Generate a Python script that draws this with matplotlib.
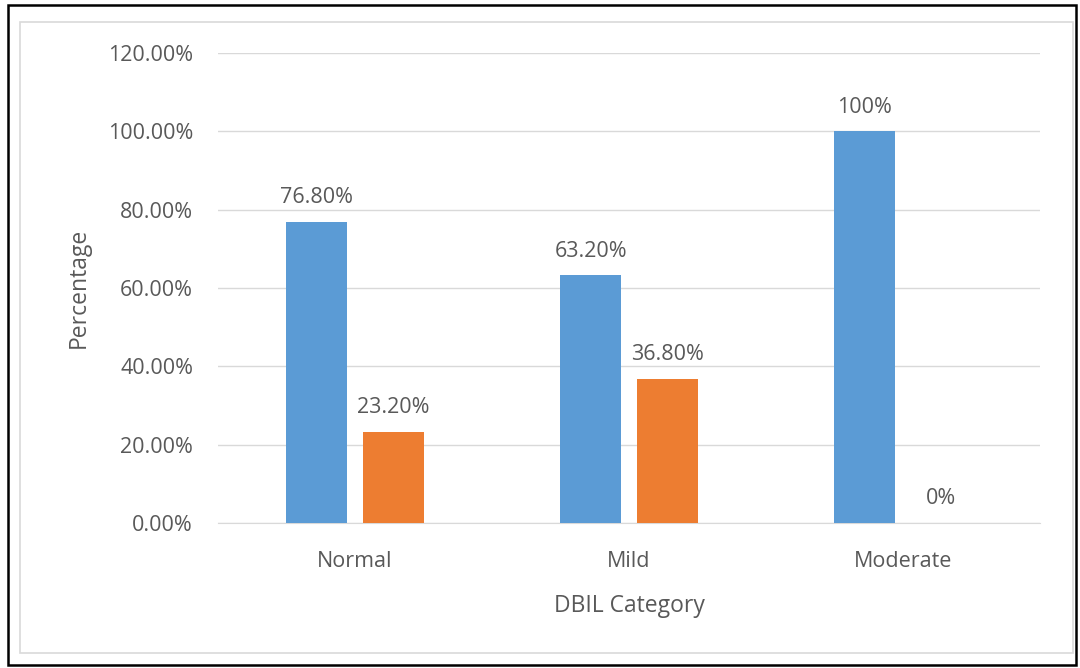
import matplotlib.pyplot as plt
import numpy as np
from matplotlib.patches import Rectangle

categories = ["Normal", "Mild", "Moderate"]
series_a = [76.8, 63.2, 100.0]
series_b = [23.2, 36.8, 0.0]
labels_a = ["76.80%", "63.20%", "100%"]
labels_b = ["23.20%", "36.80%", "0%"]
y_ticks = [0, 20, 40, 60, 80, 100, 120]

text_col = "#595959"
plt.rcParams['font.family'] = ['Open Sans', 'DejaVu Sans']

fig = plt.figure(figsize=(10.8, 6.68), dpi=100)
# outer black frame and inner gray frame
fig.patches.append(Rectangle((8 / 1080, 1 - 665 / 668), 1068 / 1080, 660 / 668,
                             transform=fig.transFigure, fill=False,
                             edgecolor="black", linewidth=1.8))
fig.patches.append(Rectangle((20 / 1080, 1 - 653 / 668), 1053 / 1080, 631 / 668,
                             transform=fig.transFigure, fill=False,
                             edgecolor="#d9d9d9", linewidth=1.2))

ax = fig.add_axes([218 / 1080, 1 - 523 / 668, 822 / 1080, 470 / 668])

x = np.arange(len(categories))
w = 0.222
off = 0.14
bars_a = ax.bar(x - off, series_a, w, color="#5b9bd5", zorder=3)
bars_b = ax.bar(x + off, series_b, w, color="#ed7d31", zorder=3)

for b, lab in zip(bars_a, labels_a):
    ax.text(b.get_x() + b.get_width() / 2, b.get_height() + 3.5, lab,
            ha="center", va="bottom", fontsize=15.5, color=text_col)
for b, lab in zip(bars_b, labels_b):
    ax.text(b.get_x() + b.get_width() / 2, b.get_height() + 3.5, lab,
            ha="center", va="bottom", fontsize=15.5, color=text_col)

ax.set_xlim(-0.5, 2.5)
ax.set_ylim(0, 120)
ax.set_yticks(y_ticks)
ax.set_yticklabels([f"{v:.2f}%" for v in y_ticks])
ax.set_xticks(x)
ax.set_xticklabels(categories)
ax.tick_params(axis="both", length=0, labelsize=15.5, labelcolor=text_col)
ax.tick_params(axis="y", pad=18)
ax.tick_params(axis="x", pad=20)
ax.grid(axis="y", color="#d9d9d9", linewidth=1, zorder=0)
for s in ["top", "right", "left"]:
    ax.spines[s].set_visible(False)
ax.spines["bottom"].set_color("#d9d9d9")

ax.set_xlabel("DBIL Category", fontsize=16.5, color=text_col, labelpad=16)
ax.set_ylabel("Percentage", fontsize=16.5, color=text_col, labelpad=12)

fig.savefig("out.png", dpi=100)
